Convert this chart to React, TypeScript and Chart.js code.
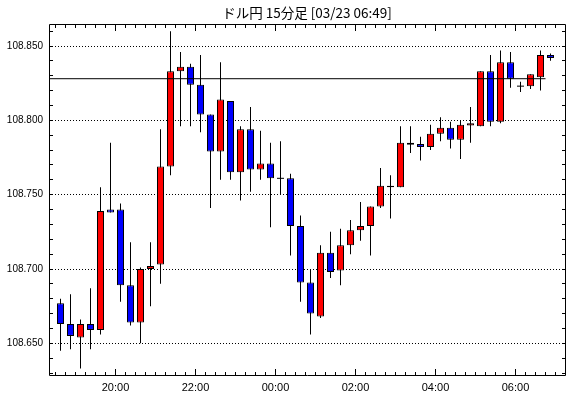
import { useEffect, useRef } from 'react';
import { Chart, registerables } from 'chart.js';

Chart.register(...registerables);

const TITLE = 'ドル円 15分足 [03/23 06:49]';

const TIMES = [
  '18:30', '18:45', '19:00', '19:15', '19:30', '19:45', '20:00', '20:15', '20:30', '20:45',
  '21:00', '21:15', '21:30', '21:45', '22:00', '22:15', '22:30', '22:45', '23:00', '23:15',
  '23:30', '23:45', '00:00', '00:15', '00:30', '00:45', '01:00', '01:15', '01:30', '01:45',
  '02:00', '02:15', '02:30', '02:45', '03:00', '03:15', '03:30', '03:45', '04:00', '04:15',
  '04:30', '04:45', '05:00', '05:15', '05:30', '05:45', '06:00', '06:15', '06:30', '06:45',
];

const OPEN = [
  108.677, 108.663, 108.654, 108.663, 108.659, 108.740, 108.740, 108.689, 108.664, 108.700,
  108.703, 108.769, 108.833, 108.836, 108.824, 108.804, 108.779, 108.813, 108.765, 108.794,
  108.767, 108.771, 108.761, 108.761, 108.729, 108.691, 108.668, 108.711, 108.699, 108.716,
  108.726, 108.729, 108.742, 108.756, 108.755, 108.785, 108.784, 108.782, 108.791, 108.795,
  108.787, 108.7965, 108.796, 108.833, 108.799, 108.839, 108.823, 108.823, 108.829, 108.844,
];

const HIGH = [
  108.680, 108.683, 108.666, 108.687, 108.755, 108.785, 108.744, 108.718, 108.701, 108.718,
  108.794, 108.860, 108.846, 108.838, 108.844, 108.804, 108.839, 108.813, 108.796, 108.809,
  108.793, 108.785, 108.786, 108.764, 108.736, 108.700, 108.716, 108.725, 108.727, 108.733,
  108.745, 108.742, 108.768, 108.763, 108.796, 108.796, 108.789, 108.797, 108.802, 108.799,
  108.800, 108.809, 108.833, 108.844, 108.847, 108.846, 108.826, 108.831, 108.847, 108.845,
];

const LOW = [
  108.645, 108.646, 108.633, 108.646, 108.656, 108.738, 108.678, 108.662, 108.650, 108.675,
  108.690, 108.763, 108.796, 108.796, 108.792, 108.741, 108.760, 108.760, 108.746, 108.752,
  108.760, 108.728, 108.750, 108.709, 108.678, 108.656, 108.667, 108.694, 108.689, 108.710,
  108.719, 108.709, 108.741, 108.734, 108.755, 108.778, 108.773, 108.780, 108.786, 108.781,
  108.774, 108.785, 108.796, 108.796, 108.798, 108.822, 108.819, 108.821, 108.820, 108.840,
];

const CLOSE = [
  108.663, 108.655, 108.663, 108.659, 108.739, 108.738, 108.689, 108.664, 108.700, 108.702,
  108.769, 108.833, 108.836, 108.824, 108.804, 108.779, 108.814, 108.765, 108.794, 108.767,
  108.771, 108.761, 108.761, 108.729, 108.691, 108.670, 108.711, 108.698, 108.716, 108.726,
  108.729, 108.742, 108.756, 108.755, 108.785, 108.7835, 108.782, 108.791, 108.795, 108.787,
  108.797, 108.798, 108.833, 108.799, 108.839, 108.828, 108.823, 108.831, 108.844, 108.842,
];

const X_LABELS = ['20:00', '22:00', '00:00', '02:00', '04:00', '06:00'];
const Y_TICKS = [108.65, 108.7, 108.75, 108.8, 108.85];
const REF_PRICE = 108.828;

const Y_MIN = 108.6287;
const Y_MAX = 108.8648;
const X_MIN = -1.15;
const X_MAX = 50.45;

const UP_COLOR = '#ff0000';
const DOWN_COLOR = '#0000ff';
const LABEL_FONT = "'Liberation Sans', Arial, sans-serif";

const framePlugin = {
  id: 'frame',
  afterDraw(chart: any) {
    const { ctx, chartArea: a, scales } = chart;
    const x = scales.x;
    const y = scales.y;
    ctx.save();
    ctx.strokeStyle = '#000';
    ctx.lineWidth = 1;
    ctx.beginPath();
    ctx.moveTo(a.left + 0.5, a.top + 0.5);
    ctx.lineTo(a.right + 0.5, a.top + 0.5);
    ctx.lineTo(a.right + 0.5, a.bottom + 0.5);
    ctx.lineTo(a.left + 0.5, a.bottom + 0.5);
    ctx.closePath();
    // x tick marks at candle boundaries
    for (let i = 0; i <= TIMES.length; i++) {
      const v = i - 0.5;
      if (v <= x.min || v >= x.max) continue;
      const px = Math.floor(x.getPixelForValue(v)) + 0.5;
      const major = i < TIMES.length && X_LABELS.includes(TIMES[i]);
      const len = major ? 6 : 3;
      ctx.moveTo(px, a.bottom);
      ctx.lineTo(px, a.bottom - len);
      ctx.moveTo(px, a.top + 1);
      ctx.lineTo(px, a.top + 1 + len);
    }
    // y tick marks every 0.01
    const start = Math.ceil(y.min * 100);
    const end = Math.floor(y.max * 100);
    for (let k = start; k <= end; k++) {
      const py = Math.floor(y.getPixelForValue(k / 100)) + 0.5;
      ctx.moveTo(a.left + 1, py);
      ctx.lineTo(a.left + 4, py);
      ctx.moveTo(a.right, py);
      ctx.lineTo(a.right - 3, py);
    }
    ctx.stroke();
    ctx.restore();
  },
};

export default function App() {
  const canvasRef = useRef<HTMLCanvasElement | null>(null);

  useEffect(() => {
    const canvas = canvasRef.current;
    if (!canvas) return;
    const idx = TIMES.map((_, i) => i);
    const chart = new Chart(canvas, {
      type: 'bar',
      data: {
        datasets: [
          {
            type: 'bar',
            label: 'wick',
            data: idx.map((i) => ({ x: i, y: [LOW[i], HIGH[i]] })) as any,
            backgroundColor: '#000',
            borderWidth: 0,
            barThickness: 1,
            grouped: false,
            inflateAmount: 0,
            order: 3,
          } as any,
          {
            type: 'bar',
            label: 'body',
            data: idx.map((i) => ({ x: i, y: [OPEN[i], CLOSE[i]] })) as any,
            backgroundColor: idx.map((i) => (CLOSE[i] >= OPEN[i] ? UP_COLOR : DOWN_COLOR)),
            borderColor: '#000',
            borderWidth: 1,
            borderSkipped: false,
            barThickness: 7,
            grouped: false,
            inflateAmount: 0,
            order: 2,
          } as any,
          {
            type: 'scatter',
            label: 'doji',
            data: idx.filter((i) => OPEN[i] === CLOSE[i]).map((i) => ({ x: i, y: OPEN[i] })),
            pointStyle: 'line',
            pointRadius: 3.5,
            borderColor: '#000',
            borderWidth: 1,
            order: 1,
          } as any,
          {
            type: 'line',
            label: 'ref',
            data: [
              { x: X_MIN, y: REF_PRICE },
              { x: TIMES.length - 1.5, y: REF_PRICE },
            ],
            borderColor: '#000',
            borderWidth: 1,
            pointRadius: 0,
            order: 0,
          } as any,
        ],
      },
      options: {
        responsive: false,
        animation: false,
        events: [],
        layout: { padding: { left: 0, right: 5, top: 0, bottom: 0 } },
        plugins: {
          legend: { display: false },
          tooltip: { enabled: false },
          title: {
            display: true,
            text: TITLE,
            fullSize: false,
            color: '#000',
            font: { family: "'Noto Sans CJK JP', sans-serif", size: 13.5, weight: 'normal' },
            padding: { top: 5, bottom: 2.8 },
          },
        },
        scales: {
          x: {
            type: 'linear',
            min: X_MIN,
            max: X_MAX,
            offset: false,
            grid: { display: false, drawTicks: false, offset: false },
            border: { display: false },
            afterBuildTicks: (scale: any) => {
              scale.ticks = X_LABELS.map((l) => ({ value: TIMES.indexOf(l) - 0.5 }));
            },
            afterFit: (scale: any) => {
              scale.height = 23;
            },
            ticks: {
              autoSkip: false,
              maxRotation: 0,
              color: '#000',
              padding: 6,
              font: { family: LABEL_FONT, size: 11 },
              callback: (_v: any, i: number) => X_LABELS[i],
            },
          },
          y: {
            type: 'linear',
            min: Y_MIN,
            max: Y_MAX,
            grid: { color: '#000', lineWidth: 1, drawTicks: false },
            border: { display: false, dash: [1, 2] },
            afterBuildTicks: (scale: any) => {
              scale.ticks = Y_TICKS.map((v) => ({ value: v }));
            },
            afterFit: (scale: any) => {
              scale.width = 49;
            },
            ticks: {
              color: '#000',
              padding: 6,
              font: { family: LABEL_FONT, size: 10 },
              callback: (v: any) => Number(v).toFixed(3),
            },
          },
        },
      },
      plugins: [framePlugin],
    } as any);
    return () => chart.destroy();
  }, []);

  return (
    <div style={{ position: 'fixed', left: 0, top: 0, width: 570, height: 398, background: '#fff' }}>
      <canvas ref={canvasRef} width={570} height={398} style={{ display: 'block' }} />
    </div>
  );
}
